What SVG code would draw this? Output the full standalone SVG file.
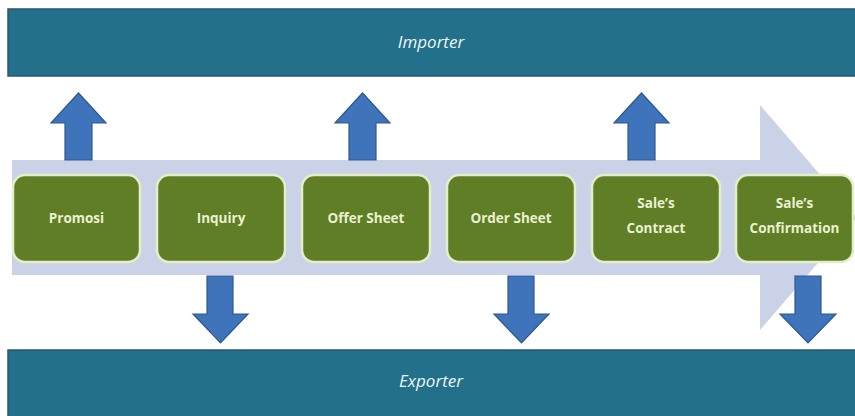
<svg xmlns="http://www.w3.org/2000/svg" width="855" height="416" viewBox="0 0 855 416">
<style>
.bar{fill:#22708a;stroke:#2c5370;stroke-width:1.5}
.bartxt{font-family:"Open Sans",sans-serif;font-style:italic;font-size:17px;fill:#eef6f8;text-anchor:middle}
.box{fill:#5f7e25;stroke:#e4eecb;stroke-width:2.5}
.txt{font-family:"Open Sans",sans-serif;font-weight:700;font-size:13.5px;fill:#eaf1d2;text-anchor:middle}
.arr{fill:#3f73ba;stroke:#2d5893;stroke-width:1.2}
</style>
<rect width="855" height="416" fill="#ffffff"/>
<g id="importer">
<rect class="bar" x="8" y="9" width="852" height="67"/>
<text class="bartxt" x="431" y="48">Importer</text>
</g>
<g id="exporter">
<rect class="bar" x="8" y="350" width="852" height="70"/>
<text class="bartxt" x="431" y="387">Exporter</text>
</g>
<g id="flow">
<polygon fill="#c9d2e6" points="12,160 760,160 760,105 857,217.5 760,330 760,275 12,275"/>
</g>
<g id="connectors">
<polygon class="arr" points="65,160 65,123 51,123 78.5,93 106,123 92,123 92,160"/>
<polygon class="arr" points="349,160 349,123 335,123 362.5,93 390,123 376,123 376,160"/>
<polygon class="arr" points="628,160 628,123 614,123 641.5,93 669,123 655,123 655,160"/>
<polygon class="arr" points="207,276 233,276 233,314 248,314 220.5,343 193,314 207,314"/>
<polygon class="arr" points="508,276 534,276 534,314 549,314 521.5,343 494,314 508,314"/>
<polygon class="arr" points="795,276 821,276 821,314 836,314 808,343 780,314 795,314"/>
</g>
<g id="promosi"><rect class="box" x="13" y="175" width="127" height="87" rx="12"/><text class="txt" x="76.5" y="223">Promosi</text></g>
<g id="inquiry"><rect class="box" x="157" y="175" width="128" height="87" rx="12"/><text class="txt" x="221" y="223">Inquiry</text></g>
<g id="offer-sheet"><rect class="box" x="302" y="175" width="128" height="87" rx="12"/><text class="txt" x="366" y="223">Offer Sheet</text></g>
<g id="order-sheet"><rect class="box" x="447" y="175" width="128" height="87" rx="12"/><text class="txt" x="511" y="223">Order Sheet</text></g>
<g id="sales-contract"><rect class="box" x="592" y="175" width="128" height="87" rx="12"/><text class="txt" x="656" y="208">Sale’s</text><text class="txt" x="656" y="233">Contract</text></g>
<g id="sales-confirmation"><rect class="box" x="736" y="175" width="117" height="87" rx="12"/><text class="txt" x="794.5" y="208">Sale’s</text><text class="txt" x="794.5" y="233">Confirmation</text></g>
</svg>
